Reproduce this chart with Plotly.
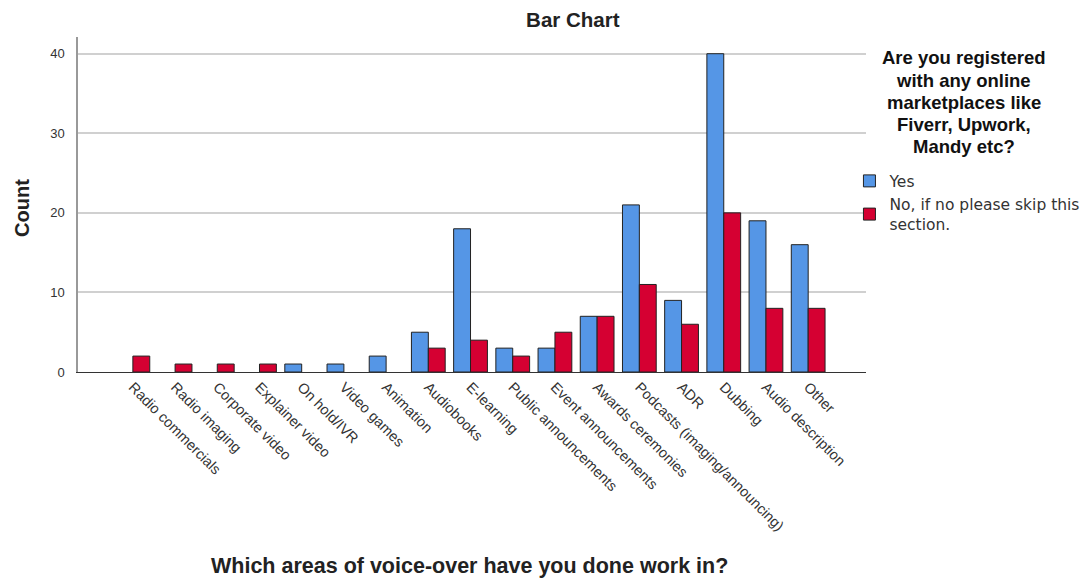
import plotly.graph_objects as go

categories = ["Radio commercials", "Radio imaging", "Corporate video", "Explainer video",
              "On hold/IVR", "Video games", "Animation", "Audiobooks", "E-learning",
              "Public announcements", "Event announcements", "Awards ceremonies",
              "Podcasts (imaging/announcing)", "ADR", "Dubbing", "Audio description", "Other"]
yes_counts = [0, 0, 0, 0, 1, 1, 2, 5, 18, 3, 3, 7, 21, 9, 40, 19, 16]
no_counts = [2, 1, 1, 1, 0, 0, 0, 3, 4, 2, 5, 7, 11, 6, 20, 8, 8]
yticks = [0, 10, 20, 30, 40]

legend_title_lines = ["Are you registered", "with any online", "marketplaces like",
                      "Fiverr, Upwork,", "Mandy etc?"]


# empty bars are not drawn at all
def hide_zero(vals):
    return [v if v else None for v in vals]


fig = go.Figure()

# Add bars
fig.add_bar(x=categories, y=hide_zero(yes_counts), name="Yes",
            marker=dict(color="#5596E6", line=dict(color="#222222", width=1)))
fig.add_bar(x=categories, y=hide_zero(no_counts), name="No, if no please skip this<br>section.",
            marker=dict(color="#D50032", line=dict(color="#222222", width=1)))

# Update layout
fig.update_layout(
    width=1089, height=581,
    barmode="group", bargap=0.2, bargroupgap=0,
    plot_bgcolor="white", paper_bgcolor="white",
    font=dict(family="Arial, Liberation Sans, sans-serif", color="#222222", size=12),
    margin=dict(l=78, r=223, t=37, b=209, autoexpand=False),
    title=dict(text="<b>Bar Chart</b>", x=0.526, xanchor="center", y=0.966, yanchor="middle",
               font=dict(size=20.5, color="#222222")),
    legend=dict(x=0.979, xanchor="left", y=0.62, yanchor="top",
                font=dict(family="DejaVu Sans, sans-serif", size=15.5, color="#333333"),
                itemwidth=30, tracegroupgap=3, bgcolor="rgba(0,0,0,0)"),
    showlegend=True,
)

fig.update_xaxes(
    categoryorder="array", categoryarray=categories,
    range=[-1.3, 17.37], tickangle=45, showgrid=False, automargin=False,
    showline=True, linecolor="#333333", linewidth=1,
    ticks="", tickfont=dict(size=14.5, color="#333333"),
)
fig.update_yaxes(
    range=[0, 42.1], tickvals=yticks, showgrid=True, gridcolor="#D0D0D0", gridwidth=1.5,
    showline=True, linecolor="#999999", linewidth=1.5, zeroline=False, automargin=False,
    ticks="", ticklabelstandoff=9,
    tickfont=dict(size=13, color="#333333"),
)

# Axis titles and legend title as annotations
fig.add_annotation(text="<b>Which areas of voice-over have you done work in?</b>",
                   xref="paper", yref="paper", x=0.497, y=-0.579, xanchor="center",
                   yanchor="middle", showarrow=False, font=dict(size=21.5, color="#222222"))
fig.add_annotation(text="<b>Count</b>", xref="paper", yref="paper", x=-0.071, y=0.49,
                   xanchor="center", yanchor="middle", textangle=-90, showarrow=False,
                   font=dict(size=20, color="#222222"))
for i, line in enumerate(legend_title_lines):
    fig.add_annotation(text="<b>" + line + "</b>", xref="paper", yref="paper",
                       x=1.124, y=(372 - 58 - 22 * i) / 335, xanchor="center", yanchor="middle",
                       showarrow=False, font=dict(size=18.5, color="#111111"))

fig.write_html("out.html", config={"displayModeBar": False},
               post_script="document.body.style.margin='0';")
